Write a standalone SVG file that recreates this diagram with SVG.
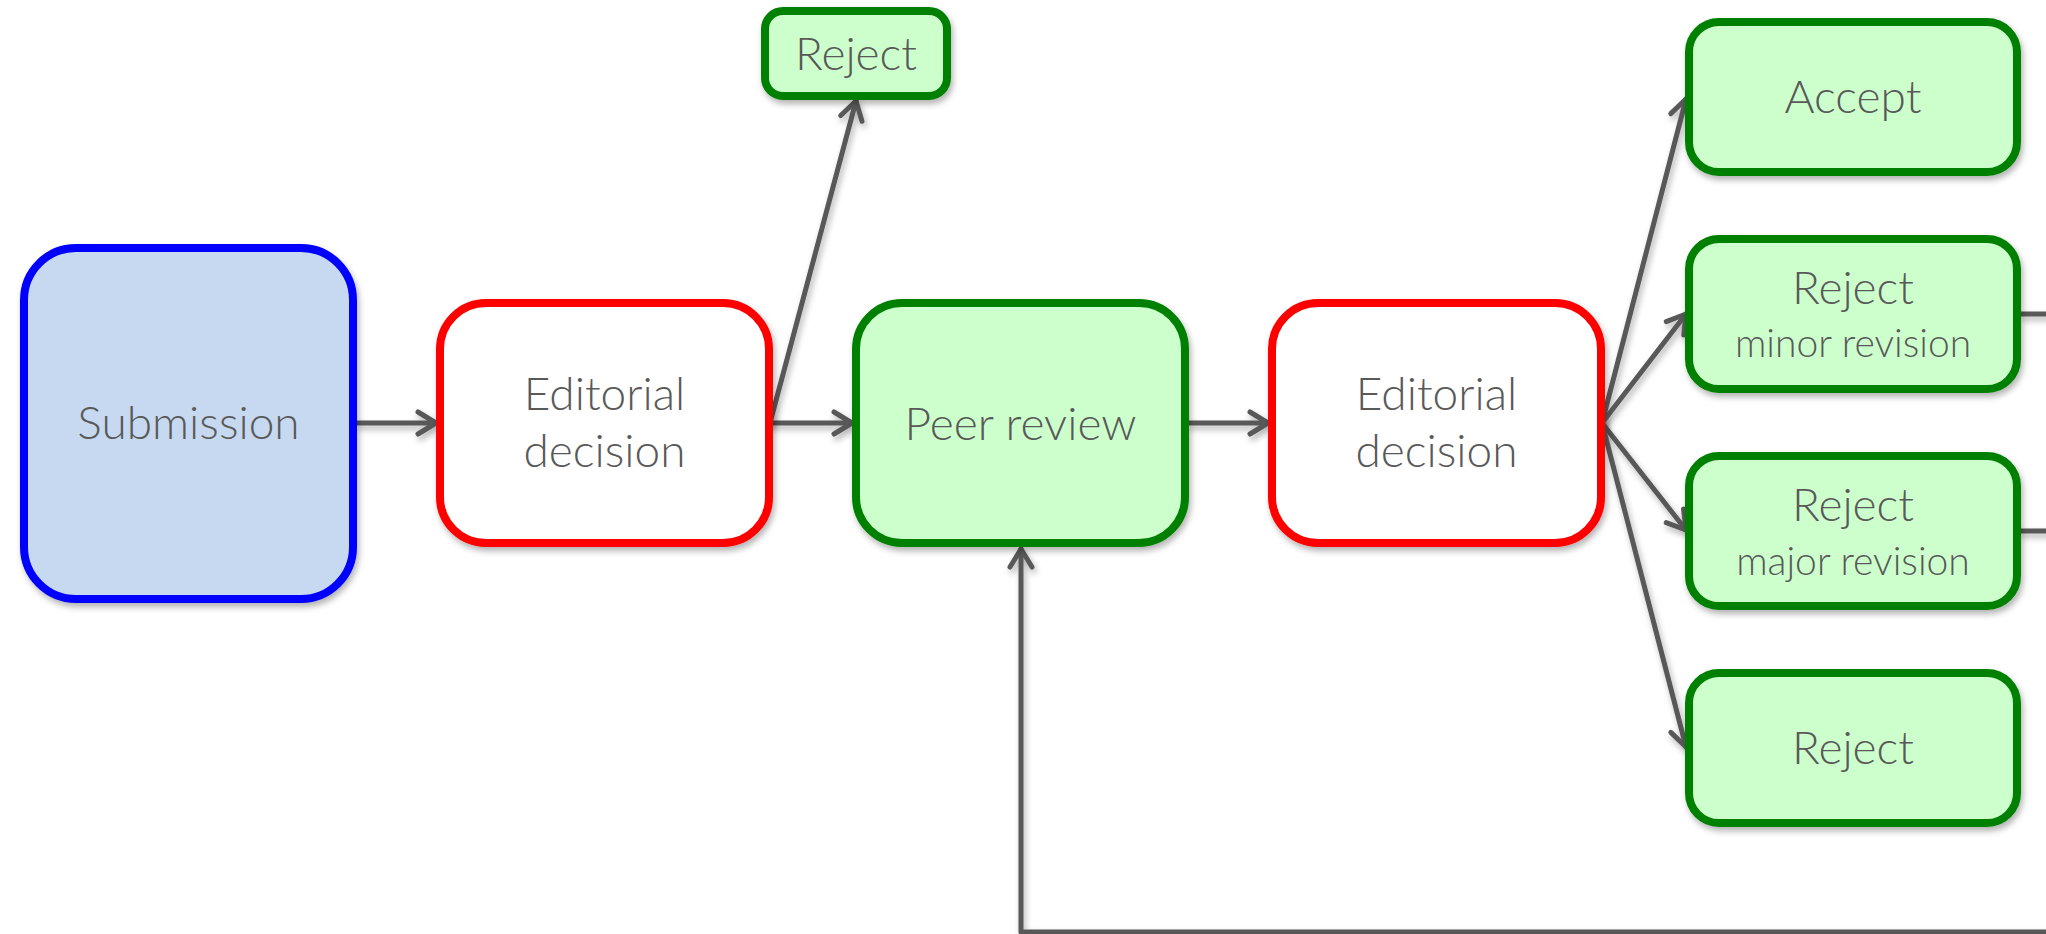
<svg xmlns="http://www.w3.org/2000/svg" width="2046" height="934" viewBox="0 0 2046 934">
  <defs>
    <filter id="shadow" filterUnits="userSpaceOnUse" x="-20" y="-20" width="2100" height="980">
      <feDropShadow dx="2" dy="4" stdDeviation="3" flood-color="#000000" flood-opacity="0.3"/>
    </filter>
    <marker id="arrow" markerUnits="userSpaceOnUse" markerWidth="40" markerHeight="40" viewBox="-30 -20 40 40" refX="0" refY="0" orient="auto" overflow="visible">
      <path d="M -18 -11 L 0 0 L -18 11" fill="none" stroke="#595959" stroke-width="5" stroke-linecap="round" stroke-linejoin="round"/>
    </marker>
    <style>
      .box { stroke-width: 8; filter: url(#shadow); }
      .blue { fill: #c6d9f1; stroke: #0000ff; }
      .red { fill: #ffffff; stroke: #ff0000; }
      .green { fill: #ccffcc; stroke: #008000; }
      .lbl { font-family: Lato, "Open Sans", "Liberation Sans", sans-serif; font-weight: 300; fill: #595959; text-anchor: middle; font-size: 46px; }
      .sub { font-size: 39px; }
      .conn { fill: none; stroke: #595959; stroke-width: 5; stroke-linecap: round; stroke-linejoin: round; filter: url(#shadow); }
    </style>
  </defs>

  <!-- connectors -->
  <g id="connectors">
    <path class="conn" d="M357 423 L436 423" marker-end="url(#arrow)"/>
    <path class="conn" d="M770 423 L852 423" marker-end="url(#arrow)"/>
    <path class="conn" d="M770 423 L856 101" marker-end="url(#arrow)"/>
    <path class="conn" d="M1189 423 L1268 423" marker-end="url(#arrow)"/>
    <path class="conn" d="M1602 423 L1686 99" marker-end="url(#arrow)"/>
    <path class="conn" d="M1602 423 L1686 314" marker-end="url(#arrow)"/>
    <path class="conn" d="M1602 423 L1686 530" marker-end="url(#arrow)"/>
    <path class="conn" d="M1602 423 L1686 747" marker-end="url(#arrow)"/>
    <path class="conn" d="M2021 314 L2050 314"/>
    <path class="conn" d="M2021 531 L2050 531"/>
    <path class="conn" d="M2050 932 L1021 932 L1021 549" marker-end="url(#arrow)"/>
  </g>

  <g id="submission">
    <rect class="box blue" x="24" y="248" width="329" height="351" rx="52"/>
    <text class="lbl" x="188.5" y="439">Submission</text>
  </g>

  <g id="editorial-decision-1">
    <rect class="box red" x="440" y="303" width="329" height="240" rx="46"/>
    <text class="lbl" x="604.5" y="410">Editorial</text>
    <text class="lbl" x="604.5" y="467">decision</text>
  </g>

  <g id="desk-reject">
    <rect class="box green" x="765" y="11" width="182" height="85" rx="18"/>
    <text class="lbl" x="856" y="70">Reject</text>
  </g>

  <g id="peer-review">
    <rect class="box green" x="856" y="303" width="329" height="240" rx="46"/>
    <text class="lbl" x="1020.5" y="440">Peer review</text>
  </g>

  <g id="editorial-decision-2">
    <rect class="box red" x="1272" y="303" width="329" height="240" rx="46"/>
    <text class="lbl" x="1436.5" y="410">Editorial</text>
    <text class="lbl" x="1436.5" y="467">decision</text>
  </g>

  <g id="accept">
    <rect class="box green" x="1689" y="22" width="328" height="150" rx="30"/>
    <text class="lbl" x="1853" y="113">Accept</text>
  </g>

  <g id="reject-minor">
    <rect class="box green" x="1689" y="239" width="328" height="150" rx="30"/>
    <text class="lbl" x="1853" y="304">Reject</text>
    <text class="lbl sub" x="1853" y="357">minor revision</text>
  </g>

  <g id="reject-major">
    <rect class="box green" x="1689" y="456" width="328" height="150" rx="30"/>
    <text class="lbl" x="1853" y="521">Reject</text>
    <text class="lbl sub" x="1853" y="575">major revision</text>
  </g>

  <g id="reject-final">
    <rect class="box green" x="1689" y="673" width="328" height="150" rx="30"/>
    <text class="lbl" x="1853" y="764">Reject</text>
  </g>
</svg>
